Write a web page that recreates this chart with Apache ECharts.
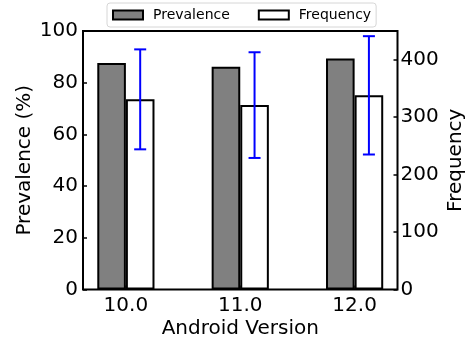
<!DOCTYPE html>
<html><head><meta charset="utf-8">
<script src="https://cdn.jsdelivr.net/npm/echarts@6/dist/echarts.min.js"></script>
<style>html,body{margin:0;padding:0;background:#fff}#c{width:465px;height:343px}</style>
</head><body><div id="c"></div>
<script>
const versions = ['10.0', '11.0', '12.0'];
const positions = [0, 1, 2];
const prevalence = [87.6, 86.2, 89.4];
const frequency = [331, 321, 338];
const frequencyErr = [87, 92, 103];
const prevalenceTicks = [0, 20, 40, 60, 80, 100];
const frequencyTicks = [0, 100, 200, 300, 400];

const FONT = 'DejaVu Sans';
const BAR_W = 28.6;
const chart = echarts.init(document.getElementById('c'), null, {renderer: 'canvas'});
chart.setOption({
  animation: false,
  textStyle: {fontFamily: FONT, color: '#000'},
  grid: {left: 83, right: 67.5, top: 31, bottom: 53.5, show: true, borderColor: '#000', borderWidth: 2,
         backgroundColor: 'transparent', containLabel: false, outerBoundsMode: 'none'},
  legend: {
    left: 107, top: 3, padding: [5, 5], itemGap: 28, itemWidth: 30, itemHeight: 9, icon: 'rect',
    borderColor: '#d6d6d6', borderWidth: 1, borderRadius: 3, backgroundColor: '#fff',
    textStyle: {fontSize: 14, color: '#000', fontFamily: FONT, padding: [0, 0, 0, 5]},
    data: [
      {name: 'Prevalence', itemStyle: {color: '#808080', borderColor: '#000', borderWidth: 2}},
      {name: 'Frequency', itemStyle: {color: '#fff', borderColor: '#000', borderWidth: 2}}
    ]
  },
  xAxis: {
    type: 'value', min: -0.375, max: 2.375,
    splitLine: {show: false}, axisLine: {show: false, onZero: false},
    axisTick: {show: true, inside: true, length: 4, customValues: positions, lineStyle: {color: '#000', width: 1.5}},
    axisLabel: {customValues: positions, formatter: (v) => versions[positions.indexOf(v)], fontSize: 20, color: '#000', margin: 6, fontFamily: FONT},
    name: 'Android Version', nameLocation: 'middle', nameGap: 29, nameMoveOverlap: false,
    nameTextStyle: {fontSize: 20, color: '#000', fontFamily: FONT}
  },
  yAxis: [
    {
      type: 'value', position: 'left', min: 0, max: 100,
      splitLine: {show: false}, axisLine: {show: false, onZero: false},
      axisTick: {show: true, inside: true, length: 4, customValues: prevalenceTicks, lineStyle: {color: '#000', width: 1.5}},
      axisLabel: {customValues: prevalenceTicks, fontSize: 20, color: '#000', margin: 5, fontFamily: FONT},
      name: 'Prevalence (%)', nameLocation: 'middle', nameRotate: 90, nameGap: 48, nameMoveOverlap: false,
      nameTextStyle: {fontSize: 20, color: '#000', fontFamily: FONT}
    },
    {
      type: 'value', position: 'right', min: 0, max: 450,
      splitLine: {show: false}, axisLine: {show: false, onZero: false},
      axisTick: {show: true, inside: true, length: 4, customValues: frequencyTicks, lineStyle: {color: '#000', width: 1.5}},
      axisLabel: {customValues: frequencyTicks, fontSize: 20, color: '#000', margin: 3, fontFamily: FONT},
      name: 'Frequency', nameLocation: 'middle', nameRotate: 90, nameGap: 48, nameMoveOverlap: false,
      nameTextStyle: {fontSize: 20, color: '#000', fontFamily: FONT}
    }
  ],
  series: [
    {name: 'Prevalence', type: 'bar', yAxisIndex: 0, barWidth: BAR_W, barGap: '0%',
     data: positions.map((x, i) => [x, prevalence[i]]),
     itemStyle: {color: '#808080', borderColor: '#000', borderWidth: 2}},
    {name: 'Frequency', type: 'bar', yAxisIndex: 1, barWidth: BAR_W, barGap: '0%',
     data: positions.map((x, i) => [x, frequency[i]]),
     itemStyle: {color: '#fff', borderColor: '#000', borderWidth: 2}},
    {type: 'custom', yAxisIndex: 1, z: 10,
     encode: {x: 0, y: [1, 2]},
     data: positions.map((x, i) => [x, frequency[i] - frequencyErr[i], frequency[i] + frequencyErr[i]]),
     renderItem: function (params, api) {
       const x = api.value(0);
       const lo = api.coord([x, api.value(1)]);
       const hi = api.coord([x, api.value(2)]);
       const cx = lo[0] + BAR_W / 2;
       const cap = 6;
       const style = {stroke: '#0000ff', lineWidth: 2};
       return {type: 'group', children: [
         {type: 'line', shape: {x1: cx, y1: lo[1], x2: cx, y2: hi[1]}, style: style},
         {type: 'line', shape: {x1: cx - cap, y1: lo[1], x2: cx + cap, y2: lo[1]}, style: style},
         {type: 'line', shape: {x1: cx - cap, y1: hi[1], x2: cx + cap, y2: hi[1]}, style: style}
       ]};
     }}
  ]
});
</script></body></html>
